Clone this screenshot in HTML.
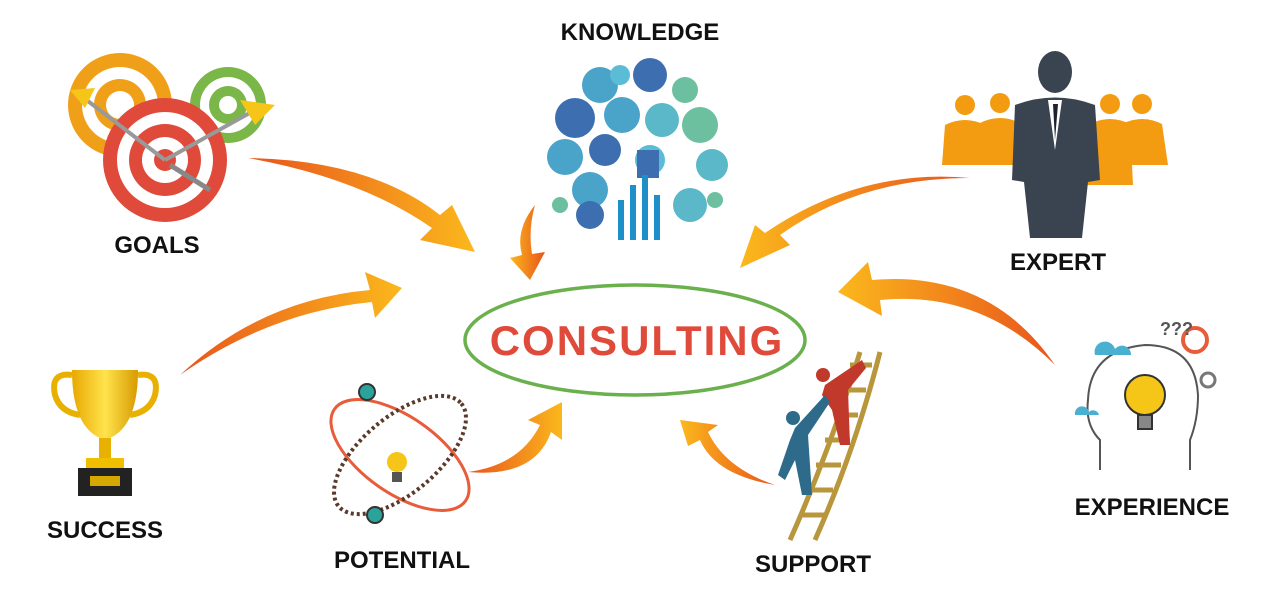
<!DOCTYPE html>
<html><head><meta charset="utf-8"><style>
html,body{margin:0;padding:0;background:#fff;}
svg{display:block}
text{font-family:"Liberation Sans",sans-serif;font-weight:bold}
</style></head><body>
<svg width="1280" height="604" viewBox="0 0 1280 604">
<defs>
<linearGradient id="ag" x1="0" y1="0" x2="1" y2="0">
<stop offset="0" stop-color="#e8541c"/><stop offset="1" stop-color="#fbb81c"/>
</linearGradient>
<linearGradient id="ag2" x1="1" y1="0" x2="0" y2="0">
<stop offset="0" stop-color="#e8541c"/><stop offset="1" stop-color="#fbb81c"/>
</linearGradient>
<linearGradient id="gold" x1="0" y1="0" x2="1" y2="0">
<stop offset="0" stop-color="#e8a800"/><stop offset=".5" stop-color="#ffe34d"/><stop offset="1" stop-color="#d89a00"/>
</linearGradient>
</defs>

<!-- Arrows -->
<!-- goals -->
<path d="M248,158 Q370,160 440,215 L452,205 L475,252 L420,240 L432,228 Q360,178 248,158Z" fill="url(#ag)"/>
<!-- success -->
<path d="M180,375 Q260,300 370,290 L365,272 L402,288 L375,318 L372,302 Q270,312 180,375Z" fill="url(#ag)"/>
<!-- knowledge small -->
<path d="M535,205 Q515,230 522,255 L510,258 L530,280 L545,252 L532,254 Q528,230 535,205Z" fill="url(#ag2)"/>
<!-- potential -->
<path d="M468,472 Q520,465 540,425 L528,420 L562,402 L562,440 L551,432 Q535,478 468,472Z" fill="url(#ag)"/>
<!-- support -->
<path d="M775,485 Q715,475 700,440 L688,446 L680,420 L718,425 L708,432 Q725,468 775,485Z" fill="url(#ag2)"/>
<!-- expert -->
<path d="M970,178 Q860,178 780,235 L790,245 L740,268 L755,225 L765,233 Q860,168 970,178Z" fill="url(#ag2)"/>
<!-- experience -->
<path d="M1055,365 Q980,290 880,300 L882,316 L838,292 L868,262 L872,280 Q990,270 1055,365Z" fill="url(#ag2)"/>

<!-- Center ellipse -->
<ellipse cx="635" cy="340" rx="170" ry="55" fill="#fff" stroke="#6ab04c" stroke-width="3.5"/>
<text x="637" y="355" font-size="42" fill="#e04a3a" text-anchor="middle" letter-spacing="2">CONSULTING</text>

<!-- Goals targets -->
<g>
<circle cx="120" cy="105" r="52" fill="#f0a018"/><circle cx="120" cy="105" r="38" fill="#fff"/><circle cx="120" cy="105" r="26" fill="#f0a018"/><circle cx="120" cy="105" r="14" fill="#fff"/>
<circle cx="228" cy="105" r="38" fill="#7ab648"/><circle cx="228" cy="105" r="28" fill="#fff"/><circle cx="228" cy="105" r="19" fill="#7ab648"/><circle cx="228" cy="105" r="9" fill="#fff"/>
<circle cx="165" cy="160" r="62" fill="#e04a3a"/><circle cx="165" cy="160" r="48" fill="#fff"/><circle cx="165" cy="160" r="36" fill="#e04a3a"/><circle cx="165" cy="160" r="23" fill="#fff"/><circle cx="165" cy="160" r="11" fill="#e04a3a"/>
<line x1="165" y1="160" x2="255" y2="110" stroke="#999" stroke-width="4"/>
<polygon points="240,100 275,105 255,125" fill="#f5c518"/>
<line x1="165" y1="160" x2="80" y2="95" stroke="#999" stroke-width="4"/>
<polygon points="70,90 95,88 85,108" fill="#f5c518"/>
<line x1="170" y1="165" x2="210" y2="190" stroke="#888" stroke-width="5"/>
</g>
<text x="157" y="253" font-size="24" fill="#111" text-anchor="middle">GOALS</text>

<!-- Knowledge cloud -->
<g>
<circle cx="600" cy="85" r="18" fill="#4aa3c8"/><circle cx="650" cy="75" r="17" fill="#3d6fb0"/><circle cx="620" cy="75" r="10" fill="#5bbcd6"/>
<circle cx="575" cy="118" r="20" fill="#3d6fb0"/><circle cx="622" cy="115" r="18" fill="#4aa3c8"/><circle cx="662" cy="120" r="17" fill="#5bb8c8"/>
<circle cx="700" cy="125" r="18" fill="#6cc0a0"/><circle cx="685" cy="90" r="13" fill="#6cc0a0"/>
<circle cx="565" cy="157" r="18" fill="#4aa3c8"/><circle cx="605" cy="150" r="16" fill="#3d6fb0"/><circle cx="650" cy="160" r="15" fill="#5bbcd6"/>
<circle cx="712" cy="165" r="16" fill="#5bb8c8"/><circle cx="590" cy="190" r="18" fill="#4aa3c8"/><circle cx="590" cy="215" r="14" fill="#3d6fb0"/>
<circle cx="690" cy="205" r="17" fill="#5bb8c8"/><circle cx="560" cy="205" r="8" fill="#6cc0a0"/><circle cx="715" cy="200" r="8" fill="#6cc0a0"/>
<rect x="637" y="150" width="22" height="28" fill="#3d6fb0"/>
<rect x="630" y="185" width="6" height="55" fill="#1e8fc8"/><rect x="642" y="175" width="6" height="65" fill="#1e8fc8"/><rect x="654" y="195" width="6" height="45" fill="#1e8fc8"/>
<rect x="618" y="200" width="6" height="40" fill="#1e8fc8"/>
</g>
<text x="640" y="40" font-size="24" fill="#111" text-anchor="middle">KNOWLEDGE</text>

<!-- Expert -->
<g fill="#f39c12">
<circle cx="965" cy="105" r="10"/><path d="M945,125 Q965,115 985,125 L988,165 L942,165Z"/>
<circle cx="1000" cy="103" r="10"/><path d="M980,123 Q1000,113 1020,123 L1023,165 L977,165Z"/>
<circle cx="1110" cy="104" r="10"/><path d="M1090,124 Q1110,114 1130,124 L1133,185 L1087,185Z"/>
<circle cx="1142" cy="104" r="10"/><path d="M1122,124 Q1142,114 1162,124 L1168,165 L1118,165Z"/>
</g>
<g fill="#3a4450">
<ellipse cx="1055" cy="72" rx="17" ry="21"/>
<path d="M1015,105 Q1055,90 1095,105 L1100,180 L1088,182 L1082,238 L1030,238 L1024,182 L1012,180Z"/>
</g>
<path d="M1048,100 L1055,150 L1062,100Z" fill="#fff"/>
<path d="M1053,104 L1055,140 L1058,104Z" fill="#1b2230"/>
<text x="1058" y="270" font-size="24" fill="#111" text-anchor="middle">EXPERT</text>

<!-- Success trophy -->
<g>
<path d="M72,370 L138,370 Q138,430 105,440 Q72,430 72,370Z" fill="url(#gold)"/>
<path d="M72,375 Q50,372 55,395 Q60,412 80,415" fill="none" stroke="#e8b000" stroke-width="6"/>
<path d="M138,375 Q160,372 155,395 Q150,412 130,415" fill="none" stroke="#e8b000" stroke-width="6"/>
<rect x="99" y="438" width="12" height="22" fill="#e8b000"/>
<rect x="86" y="458" width="38" height="10" fill="#f0c000"/>
<rect x="78" y="468" width="54" height="28" fill="#222"/>
<rect x="90" y="476" width="30" height="10" fill="#d4a800"/>
</g>
<text x="105" y="538" font-size="24" fill="#111" text-anchor="middle">SUCCESS</text>

<!-- Potential atom -->
<g fill="none">
<ellipse cx="400" cy="455" rx="80" ry="38" transform="rotate(35 400 455)" stroke="#e85c3a" stroke-width="3"/>
<ellipse cx="400" cy="455" rx="80" ry="38" transform="rotate(-40 400 455)" stroke="#5a3a2a" stroke-width="4" stroke-dasharray="3 3"/>
<circle cx="367" cy="392" r="8" fill="#2aa39a" stroke="#333" stroke-width="2"/>
<circle cx="375" cy="515" r="8" fill="#2aa39a" stroke="#333" stroke-width="2"/>
<circle cx="397" cy="462" r="10" fill="#f5c518"/>
<rect x="392" y="472" width="10" height="10" fill="#555"/>
</g>
<text x="402" y="568" font-size="24" fill="#111" text-anchor="middle">POTENTIAL</text>

<!-- Support ladder -->
<g stroke="#b8963c" stroke-width="5" fill="none">
<path d="M790,540 Q830,450 860,352"/><path d="M815,540 Q855,450 880,352"/>
<path d="M800,515 L825,515 M808,490 L833,490 M816,465 L841,465 M825,440 L850,440 M834,415 L858,415 M842,390 L866,390 M850,365 L872,365"/>
</g>
<g>
<circle cx="823" cy="375" r="7" fill="#c0392b"/><path d="M825,385 L862,360 L866,368 L848,390 L850,445 L840,445 L832,410 L822,395Z" fill="#c0392b"/>
<circle cx="793" cy="418" r="7" fill="#2e6b8a"/><path d="M795,428 L825,395 L830,402 L808,435 L812,495 L802,495 L795,460 L785,480 L778,475 L790,440Z" fill="#2e6b8a"/>
</g>
<text x="813" y="572" font-size="24" fill="#111" text-anchor="middle">SUPPORT</text>

<!-- Experience head -->
<g fill="none" stroke="#555" stroke-width="2">
<path d="M1100,470 L1100,440 Q1085,425 1088,400 Q1090,350 1145,345 Q1195,345 1198,395 Q1198,420 1190,440 L1190,470"/>
<circle cx="1145" cy="395" r="20" fill="#f5c518" stroke="#333"/>
<rect x="1138" y="415" width="14" height="14" fill="#888" stroke="#333"/>
<circle cx="1195" cy="340" r="12" stroke="#e85c3a" stroke-width="4"/>
<circle cx="1208" cy="380" r="7" stroke="#777" stroke-width="3"/>
</g>
<path d="M1095,355 a10,10 0 0 1 20,-6 a9,9 0 0 1 16,6 Z" fill="#4ab0d0"/>
<path d="M1075,415 a7,7 0 0 1 14,-3 a6,6 0 0 1 10,3Z" fill="#4ab0d0"/>
<text x="1160" y="335" font-size="18" fill="#555" font-weight="normal">???</text>
<text x="1152" y="515" font-size="24" fill="#111" text-anchor="middle">EXPERIENCE</text>
</svg>
</body></html>
